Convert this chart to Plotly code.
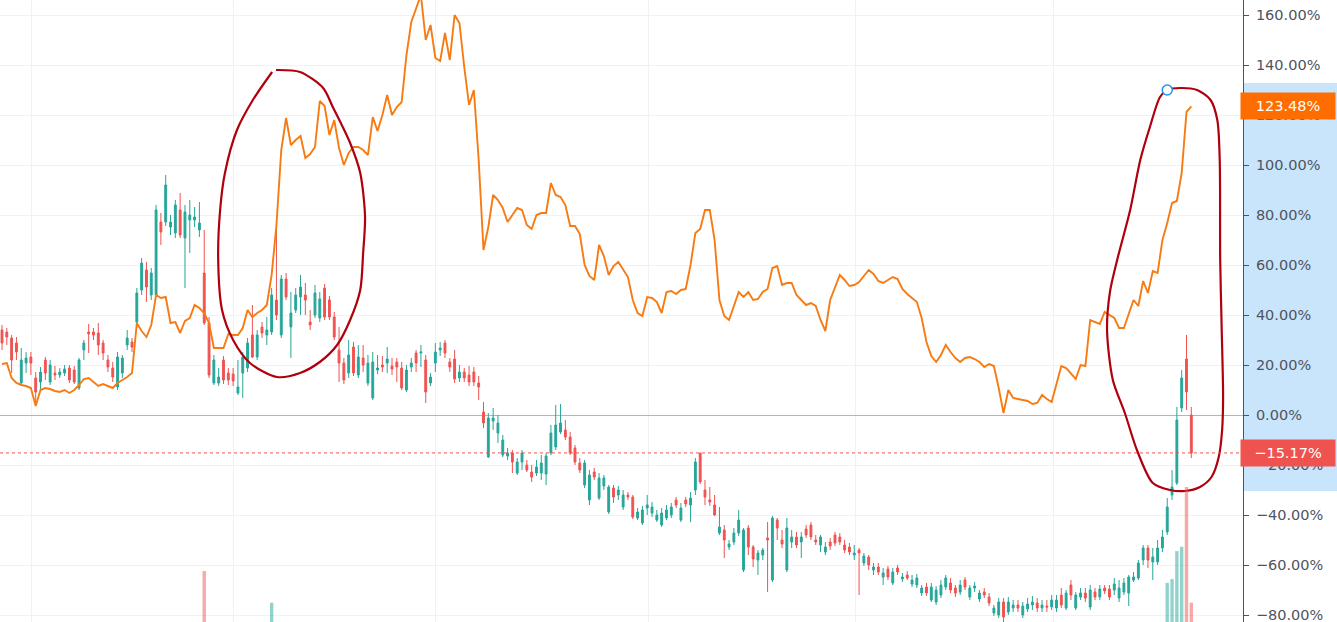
import plotly.graph_objects as go

# ---------------- data (percent change, one value per bar) ----------------
OPEN = [
    34, 33.2, 30.8, 28.8, 12.8, 20.8, 23.2, 14.8, 13.2, 22,
    13.2, 16.8, 16, 16.8, 18.8, 18, 10.8, 26, 33.2, 33.2,
    32.8, 28.8, 22, 18.8, 11.2, 16.8, 28, 29.2, 37.2, 50,
    58, 48, 48, 77.2, 77.2, 75.2, 72.8, 82, 70.8, 78,
    78, 74, 56.8, 36.8, 12.8, 12.8, 22, 16.8, 16.4, 8.8,
    16.8, 18.8, 32, 23.2, 35.2, 32, 33.2, 46, 32, 54.4,
    35.2, 42, 47.2, 48, 37.2, 40, 38.8, 50.8, 46, 39.2,
    26, 20.8, 16.8, 27.2, 16, 22.8, 12.8, 6.8, 18, 20,
    20.8, 19.6, 21.2, 18.8, 10, 19.2, 24.8, 24.8, 22, 12.8,
    20.8, 26, 28.8, 21.2, 22.4, 14.8, 17.2, 16, 17.2, 12.8,
    1.2, -16.8, -2.4, -7.2, -16, -16.4, -15.2, -23.2, -18.8, -20,
    -22.8, -23.2, -23.2, -23.6, -15.2, -12.8, -6.8, -6, -8.8, -13.2,
    -19.2, -28, -34, -22.8, -33.2, -28.4, -38.8, -29.2, -32, -36.8,
    -32, -32.8, -41.2, -43.2, -37.2, -39.2, -42, -44, -41.2, -40,
    -34, -42, -34, -36, -30, -15.2, -30, -34, -36, -47.2,
    -46, -52.8, -50.8, -47.2, -62, -45.2, -52.8, -58, -56, -49.2,
    -66, -42, -50, -62, -50.8, -48.8, -50.8, -45.6, -44, -50,
    -52, -54.8, -50.8, -48, -48.8, -52, -52.8, -56, -54, -59.2,
    -56.8, -62, -60.8, -64.8, -61.6, -67.2, -61.2, -65.6, -64, -67.6,
    -68, -71.2, -68.8, -74, -74.8, -72, -68.8, -67.2, -69.2, -70.8,
    -66, -72.8, -69.2, -73.6, -70.8, -72.8, -79.2, -80, -74.8, -78.8,
    -77.2, -76, -80, -77.6, -76, -75.2, -77.2, -76.4, -76.8, -77.2,
    -72, -77.2, -68, -77.2, -72.8, -71.2, -76.8, -70.8, -72.8, -69.2,
    -69.6, -70, -73.2, -70.8, -71.2, -66, -65.2, -58, -53.2, -58.8,
    -58.8, -53.2, -46.8, -32, -27.2, 2.8, 22.4, 0,
]
HIGH = [
    36, 34.8, 32, 31.2, 26.8, 25.2, 25.2, 17.2, 19.2, 23.2,
    22, 19.6, 18.8, 20, 20, 19.6, 22.8, 30, 36.4, 34.8,
    36.8, 30, 24, 21.2, 25.2, 24, 34, 30.8, 50.8, 62.8,
    61.2, 58.8, 84, 80.8, 96, 80, 86, 88.8, 84, 86,
    83.2, 85.2, 74, 39.2, 24, 18.8, 23.6, 18.8, 18.8, 22,
    25.2, 30.8, 44, 34, 37.2, 39.2, 50.8, 74, 56, 56.8,
    49.2, 50.8, 56, 52.8, 42, 52, 49.2, 52.4, 47.6, 41.2,
    35.2, 22.8, 30, 29.2, 28, 28, 24, 25.2, 24, 23.6,
    27.2, 22.8, 22.8, 21.2, 20, 22.8, 26, 28, 24, 16.8,
    28.8, 29.2, 30, 22.8, 26, 20, 18.8, 19.6, 19.2, 15.6,
    5.2, 0.8, 2.8, 0, -8, -13.2, -14, -17.2, -14, -18,
    -20, -18, -16, -15.2, -4, 4, 4.4, -2, -6.8, -12,
    -17.2, -18, -22, -21.2, -23.2, -24, -28, -28, -28.4, -30,
    -30.8, -32, -37.2, -36.4, -32, -34.8, -38, -37.2, -36, -35.2,
    -32.8, -35.2, -32.8, -30.8, -17.2, -15.2, -26, -28.8, -32, -36.8,
    -44, -50, -45.2, -38, -45.2, -44, -52, -54, -53.2, -42.8,
    -40.4, -41.2, -46, -41.2, -46, -46.8, -46.8, -44, -42.8, -48,
    -48, -50.8, -49.2, -46.8, -47.2, -50, -51.2, -52, -53.2, -55.2,
    -56, -59.2, -59.2, -61.2, -60.4, -61.2, -60, -63.2, -62.4, -64,
    -63.6, -68, -67.2, -67.2, -68.4, -66, -64, -65.2, -68, -66,
    -64.8, -68, -66.8, -70, -69.2, -71.2, -76, -73.2, -73.2, -72.8,
    -74, -74, -74.8, -73.2, -72.4, -73.2, -74, -74, -72, -72,
    -69.2, -70, -66, -70.8, -69.2, -69.2, -68, -69.2, -68, -68,
    -68, -65.2, -66, -65.2, -64, -62.8, -58, -52, -52, -53.2,
    -50, -46, -33.2, -22, 3.2, 18, 32, 3.2,
]
LOW = [
    26, 28, 16.8, 22, 12, 16.8, 16, 4, 10, 14,
    12, 14, 14.8, 15.6, 12.8, 12.4, 10, 22, 24.8, 30,
    24, 22, 17.2, 13.2, 10, 14.8, 26, 25.2, 34.8, 48,
    45.2, 46, 47.6, 68, 75.6, 72, 70.8, 70.8, 50.8, 64.8,
    75.2, 71.2, 36, 14.8, 12, 11.6, 12.4, 12, 11.6, 8,
    6.8, 17.2, 22.8, 22, 30.8, 28, 32, 38, 30.8, 46,
    22.8, 40.8, 40, 40, 34, 38.8, 37.2, 38, 38, 30,
    13.2, 12.4, 14.8, 15.6, 14.8, 17.2, 11.6, 6, 16.4, 17.2,
    16.8, 16, 13.2, 10, 9.2, 17.2, 17.2, 19.2, 4.8, 11.6,
    17.2, 23.6, 22.8, 17.2, 12.8, 13.2, 13.2, 11.6, 11.6, 6,
    -5.2, -17.2, -6, -11.2, -16.8, -18, -23.2, -24, -22, -22.8,
    -26.8, -24.4, -26, -28, -16, -14, -7.6, -10, -16, -20,
    -23.2, -29.2, -36, -26, -34, -30, -39.6, -35.2, -34, -38,
    -34, -41.6, -42, -44, -40, -40.8, -42.8, -44.8, -42, -41.2,
    -37.2, -42.8, -36.8, -42.8, -32, -27.6, -36, -36.4, -40.4, -48,
    -57.2, -54, -52, -48.4, -62.8, -56, -60.8, -64, -58, -70.8,
    -66.8, -50, -53.2, -62.8, -53.2, -53.2, -57.2, -49.2, -50, -52,
    -54.8, -56, -54, -52.4, -52, -55.2, -56, -58, -72, -60.4,
    -62, -64, -64, -68, -66, -68, -64, -66.8, -66, -68.8,
    -69.2, -72.4, -72.4, -74.8, -76, -73.2, -70, -71.2, -72.8, -72,
    -70, -74, -70.8, -74.8, -73.2, -76.4, -80.4, -81.2, -82.8, -80,
    -78.8, -78.8, -81.2, -78.8, -78, -78.8, -78.8, -78.8, -78, -78.8,
    -77.2, -78, -74, -78, -74, -74.8, -78, -74, -74, -71.6,
    -74, -72, -74.8, -72, -76.4, -66.8, -66, -60, -61.2, -66,
    -60, -54.8, -48, -34, -28, 1.2, 2, -17.2,
]
CLOSE = [
    28.8, 31.2, 22, 25.2, 22, 22.8, 20.8, 9.2, 17.2, 16.8,
    20, 16, 17.2, 18.4, 14, 13.2, 22, 28.8, 32.4, 32,
    28, 24.8, 19.2, 15.2, 23.2, 22.8, 30.8, 27.2, 48.8, 60.8,
    51.2, 56.8, 82, 73.2, 92, 77.2, 84, 72, 81.2, 80,
    79.2, 76.8, 36.8, 16, 22, 15.2, 14, 14, 13.6, 11.2,
    23.2, 28.8, 23.2, 32, 32.8, 34, 48, 40, 54.4, 47.2,
    40.8, 48, 51.2, 46, 36, 48.8, 46.4, 39.2, 39.2, 31.2,
    20.8, 14, 24, 16.8, 23.2, 20, 20.8, 21.2, 18.8, 19.2,
    22.4, 18.4, 19.2, 10.8, 18, 20.8, 20.8, 25.2, 9.2, 15.2,
    25.2, 26.8, 24.8, 19.2, 14.4, 17.2, 14.8, 13.2, 13.2, 11.2,
    -3.2, -1.2, -1.2, -3.2, -10, -15.2, -18.8, -18.8, -15.2, -22,
    -24.8, -20.8, -19.2, -16.4, -7.2, -4, -3.2, -8.8, -15.2, -18.8,
    -22, -19.2, -24, -24.8, -25.2, -25.2, -28.8, -32.8, -30, -32,
    -32.8, -40.8, -38.8, -38, -36, -36.8, -40, -39.2, -38, -36.8,
    -36, -37.2, -35.6, -33.2, -18.8, -26.8, -32.8, -34.8, -40, -44.8,
    -50, -51.6, -47.2, -42, -46, -52.8, -57.6, -55.2, -54, -50,
    -41.2, -45.2, -51.6, -45.2, -48.8, -52, -48.8, -48, -48.8, -50.8,
    -48.8, -52.8, -52.4, -51.2, -50.8, -54, -54.8, -55.2, -55.2, -56.4,
    -60, -60.8, -62.8, -63.2, -64.8, -62.8, -62.8, -64.8, -65.2, -66,
    -65.2, -69.2, -71.2, -68.8, -70, -68, -65.2, -70, -71.2, -68,
    -68.8, -69.2, -68.4, -71.2, -72, -75.2, -77.2, -74.8, -80.8, -74.8,
    -76, -77.2, -76.4, -75.6, -74.8, -77.2, -76, -76.8, -74, -74,
    -76, -71.2, -72, -72, -71.2, -73.2, -70, -72.8, -69.6, -70.4,
    -72.8, -67.6, -69.2, -67.2, -64.8, -64.8, -59.2, -53.2, -58, -56.8,
    -53.2, -48.8, -36.8, -28.8, -2, 14.8, 9.2, -15.17,
]
# comparison symbol (orange line), percent change per bar
COMPARE = [
    20.4, 20.8, 14.8, 12.8, 12.0, 11.6, 10.8, 3.6, 10.0, 10.8,
    10.4, 9.6, 9.2, 10.0, 8.8, 10.0, 12.0, 14.4, 14.8, 13.2,
    11.6, 12.4, 11.6, 10.8, 12.8, 14.0, 15.2, 16.8, 36.8, 33.6,
    31.2, 36.0, 48.0, 46.8, 47.2, 36.8, 37.2, 32.8, 37.6, 38.8,
    44.0, 42.8, 40.8, 36.8, 26.8, 26.8, 26.8, 32.4, 32.0, 32.0,
    34.8, 42.0, 39.2, 40.8, 42.0, 44.0, 56.0, 76.0, 106.0, 118.8,
    108.0, 110.0, 111.6, 102.8, 104.4, 107.2, 125.6, 123.6, 112.0, 118.0,
    106.8, 100.0, 104.8, 107.2, 107.2, 106.0, 104.0, 119.2, 113.6, 120.0,
    128.0, 120.0, 123.2, 125.2, 144.0, 157.2, 162.8, 168.0, 150.0, 156.0,
    142.8, 141.6, 152.8, 142.0, 160.0, 156.8, 139.2, 124.0, 130.0, 102.0,
    66.0, 75.2, 88.0, 86.0, 82.8, 77.2, 80.0, 82.8, 82.0, 76.0,
    74.4, 80.0, 80.8, 80.8, 92.8, 88.0, 87.2, 84.0, 75.6, 75.6,
    72.4, 60.0, 55.6, 54.0, 68.0, 63.6, 56.0, 59.6, 61.2, 58.0,
    55.2, 46.0, 40.8, 39.6, 47.2, 46.8, 45.2, 40.8, 49.2, 49.6,
    48.4, 50.0, 50.4, 60.0, 72.8, 74.4, 82.0, 82.0, 70.0, 46.0,
    39.6, 38.0, 44.0, 49.2, 47.2, 49.2, 46.0, 46.4, 49.2, 50.4,
    58.8, 59.6, 52.0, 52.8, 52.8, 48.0, 46.0, 44.0, 44.8, 43.6,
    38.0, 33.6, 46.0, 51.2, 56.0, 54.0, 51.6, 52.0, 53.2, 55.6,
    58.0, 56.4, 53.6, 52.8, 54.0, 55.2, 54.4, 50.4, 48.4, 46.8,
    45.2, 38.8, 29.2, 23.6, 21.2, 24.0, 28.0, 25.2, 22.8, 21.2,
    22.8, 23.2, 22.4, 21.2, 19.2, 20.4, 19.6, 10.8, 0.8, 10.0,
    6.8, 6.4, 6.0, 5.6, 4.4, 4.8, 8.0, 6.4, 5.2, 12.0,
    19.6, 18.8, 16.8, 14.4, 20.0, 19.6, 38.0, 37.2, 36.4, 41.2,
    40.0, 38.8, 34.8, 34.8, 40.4, 46.0, 43.6, 53.6, 48.8, 57.6,
    56.8, 70.0, 76.8, 84.8, 85.6, 96.8, 121.2, 123.48,
]
# only the volume bars that reach into the visible window
VOL_BAR = [42, 56, 242, 243, 244, 245, 246, 247]
VOL_VALUE = [8.2, 3.1, 6.3, 6.9, 11.4, 12.1, 21.7, 3.1]

# y-axis tick values (percent)
TICK_VALUES = [-80, -60, -40, -20, 0, 20, 40, 60, 80, 100, 120, 140, 160]
# bar positions of the vertical (date) grid lines
GRID_BARS = [6.2, 48.0, 90.1, 134.2, 177.2, 218.3]

# hand-drawn ellipse annotations (bar index, percent)
ELL1_BAR = [56.9, 61.9, 66.7, 68.7, 72.3, 74.4, 75.4, 75.0, 74.4, 72.3, 69.6, 66.0,
            61.9, 57.1, 51.5, 48.0, 45.7, 44.9, 45.3, 46.3, 48.8, 52.1, 56.1]
ELL1_PCT = [138, 137.2, 130.8, 123.2, 108.8, 96.8, 79.2, 64.8, 50, 38, 28, 21.2,
            16.8, 15.2, 20.8, 30, 42, 62, 82, 96.8, 114, 126, 137.2]
ELL2_BAR = [242.0, 244.7, 248.2, 251.0, 252.4, 252.9, 253.0, 253.3, 253.6, 253.4, 252.7,
            251.2, 248.8, 245.7, 242.6, 239.0, 235.7, 233.2, 230.7, 229.5, 230.1, 231.6,
            234.3, 236.4, 238.4, 240.5, 242.0]
ELL2_PCT = [130, 130.8, 130, 126, 118, 102, 62, 35.2, 7.2, -6, -16.8,
            -24.8, -28.8, -30.4, -30, -27.2, -14, 0.8, 14, 34, 49.2, 62,
            82, 102, 115.2, 127.2, 130]

# ---------------- styling ----------------
UP = '#26a69a'
DOWN = '#ef5350'
ORANGE_LINE = '#f77b12'
ORANGE_BOX = '#ff6d00'
PEN = '#b0000d'
AXIS_TXT = '#50535e'
GRID = '#eef1f6'
FONT = 'DejaVu Sans'


def pct(v):
    return f"{v:.2f}%".replace('-', '\u2212')


N = len(CLOSE)
bars = list(range(N))

fig = go.Figure()

vol_colors = ['rgba(38,166,154,0.5)' if CLOSE[b] >= OPEN[b] else 'rgba(239,83,80,0.5)'
              for b in VOL_BAR]
fig.add_trace(go.Bar(x=VOL_BAR, y=VOL_VALUE, marker_color=vol_colors, marker_line_width=0,
                     width=0.7, yaxis='y2', showlegend=False, hoverinfo='skip'))

fig.add_trace(go.Candlestick(
    x=bars, open=OPEN, high=HIGH, low=LOW, close=CLOSE,
    increasing=dict(line=dict(color=UP, width=1), fillcolor=UP),
    decreasing=dict(line=dict(color=DOWN, width=1), fillcolor=DOWN),
    whiskerwidth=0, showlegend=False, hoverinfo='skip'))

fig.add_trace(go.Scatter(x=bars, y=COMPARE, mode='lines',
                         line=dict(color=ORANGE_LINE, width=1.9),
                         showlegend=False, hoverinfo='skip'))

for bx, py in ((ELL1_BAR, ELL1_PCT), (ELL2_BAR, ELL2_PCT)):
    fig.add_trace(go.Scatter(x=bx, y=py, mode='lines',
                             line=dict(color=PEN, width=2.2, shape='spline', smoothing=0.8),
                             showlegend=False, hoverinfo='skip'))

fig.add_trace(go.Scatter(x=[ELL2_BAR[0]], y=[ELL2_PCT[0]], mode='markers',
                         marker=dict(symbol='circle', size=10, color='white',
                                     line=dict(color='#2196f3', width=1.5)),
                         showlegend=False, hoverinfo='skip'))

# price-scale highlight of the selected drawing
fig.add_shape(type='rect', xref='paper', x0=1, x1=1.08, yref='y',
              y0=min(ELL2_PCT), y1=max(ELL2_PCT) + 2,
              fillcolor='#c8e5fc', line_width=0, layer='below')

# last-price dotted line
fig.add_shape(type='line', xref='paper', x0=0, x1=1, yref='y',
              y0=CLOSE[-1], y1=CLOSE[-1],
              line=dict(color=DOWN, width=1, dash='dot'))

for val, col in ((COMPARE[-1], ORANGE_BOX), (CLOSE[-1], DOWN)):
    fig.add_annotation(x=1, xref='paper', xanchor='left', xshift=-3,
                       y=val, yref='y', yanchor='middle',
                       text=pct(val), showarrow=False, bgcolor=col,
                       font=dict(color='white', size=14.5, family=FONT),
                       width=88, height=20, borderpad=3, align='center')

x0 = -0.415
fig.update_layout(
    width=1337, height=622,
    margin=dict(l=0, r=94, t=0, b=0, autoexpand=False),
    paper_bgcolor='white', plot_bgcolor='white',
    hovermode=False, showlegend=False, boxgap=0.45,
    xaxis=dict(range=[x0, x0 + 258.15], rangeslider=dict(visible=False),
               tickvals=GRID_BARS, showticklabels=False, ticks='',
               showgrid=True, gridcolor=GRID, gridwidth=1, zeroline=False,
               showline=False, fixedrange=True, automargin=False),
    yaxis=dict(side='right', range=[-82.8, 166], tickvals=TICK_VALUES,
               ticktext=[pct(v) for v in TICK_VALUES],
               ticks='outside', ticklen=5, tickcolor=AXIS_TXT,
               showline=True, linecolor=AXIS_TXT, linewidth=1,
               showgrid=True, gridcolor=GRID, gridwidth=1,
               zeroline=True, zerolinecolor='#b2b5be', zerolinewidth=1,
               automargin=False, ticklabeloverflow='allow', ticklabelstandoff=4,
               tickfont=dict(family=FONT, size=14.5, color=AXIS_TXT)),
    yaxis2=dict(overlaying='y', range=[0, 100], visible=False, fixedrange=True),
)

fig.write_html("out.html", config={'displayModeBar': False},
               post_script="document.body.style.margin='0';document.body.style.overflow='hidden';")
